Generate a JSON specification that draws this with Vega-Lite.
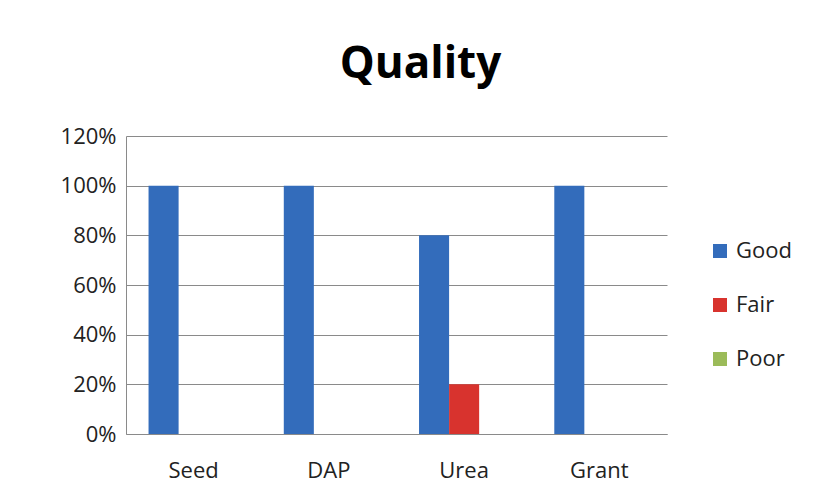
{
  "$schema": "https://vega.github.io/schema/vega-lite/v6.json",
  "width": 541,
  "height": 298,
  "autosize": {"type": "none"},
  "padding": {"left": 126, "top": 136, "right": 156, "bottom": 69},
  "background": "white",
  "title": {
    "text": "Quality",
    "fontSize": 44,
    "fontWeight": "bold",
    "font": "Open Sans",
    "color": "black",
    "anchor": "middle",
    "dx": 24,
    "offset": 38
  },
  "data": {
    "values": [
      {"item": "Seed", "rating": "Good", "share": 1.0},
      {"item": "Seed", "rating": "Fair", "share": 0},
      {"item": "Seed", "rating": "Poor", "share": 0},
      {"item": "DAP", "rating": "Good", "share": 1.0},
      {"item": "DAP", "rating": "Fair", "share": 0},
      {"item": "DAP", "rating": "Poor", "share": 0},
      {"item": "Urea", "rating": "Good", "share": 0.8},
      {"item": "Urea", "rating": "Fair", "share": 0.2},
      {"item": "Urea", "rating": "Poor", "share": 0},
      {"item": "Grant", "rating": "Good", "share": 1.0},
      {"item": "Grant", "rating": "Fair", "share": 0},
      {"item": "Grant", "rating": "Poor", "share": 0}
    ]
  },
  "mark": {"type": "bar", "stroke": null},
  "encoding": {
    "x": {
      "field": "item",
      "type": "nominal",
      "sort": ["Seed", "DAP", "Urea", "Grant"],
      "scale": {"paddingInner": 0.3333, "paddingOuter": 0.1667},
      "axis": {
        "title": null,
        "labelAngle": 0,
        "labelFontSize": 22,
        "labelFont": "Open Sans",
        "labelColor": "#222",
        "labelPadding": 26,
        "ticks": false,
        "domain": true,
        "domainColor": "#8a8a8a",
        "grid": false
      }
    },
    "xOffset": {
      "field": "rating",
      "type": "nominal",
      "sort": ["Good", "Fair", "Poor"],
      "scale": {"paddingInner": 0, "paddingOuter": 0}
    },
    "y": {
      "field": "share",
      "type": "quantitative",
      "scale": {"domain": [0, 1.2], "nice": false},
      "axis": {
        "title": null,
        "format": ".0%",
        "values": [0, 0.2, 0.4, 0.6, 0.8, 1.0, 1.2],
        "labelFontSize": 22,
        "labelFont": "Open Sans",
        "labelColor": "#222",
        "labelPadding": 10,
        "ticks": false,
        "domain": true,
        "domainColor": "#8a8a8a",
        "grid": true,
        "gridColor": "#8a8a8a",
        "gridWidth": 1
      }
    },
    "color": {
      "field": "rating",
      "type": "nominal",
      "sort": ["Good", "Fair", "Poor"],
      "scale": {"domain": ["Good", "Fair", "Poor"], "range": ["#336CBB", "#D8332E", "#9BBB59"]},
      "legend": {
        "title": null,
        "orient": "none",
        "legendX": 583,
        "legendY": 104,
        "symbolType": "square",
        "symbolSize": 196,
        "symbolStrokeWidth": 0,
        "labelFontSize": 22,
        "labelFont": "Open Sans",
        "labelColor": "#222",
        "rowPadding": 32,
        "labelOffset": 5
      }
    }
  },
  "config": {"view": {"stroke": null}}
}
